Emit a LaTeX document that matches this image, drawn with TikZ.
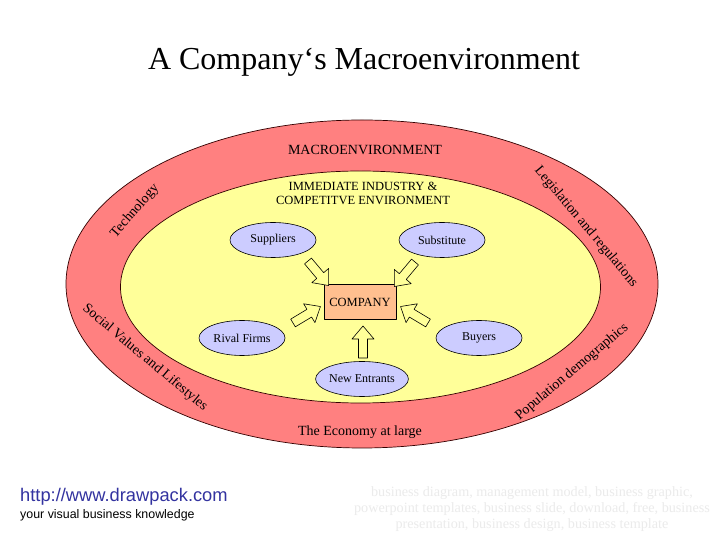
\documentclass[tikz,border=0pt]{standalone}
\usepackage{fontspec}
\setmainfont{Liberation Serif}
\newfontfamily\footfont{Liberation Sans}
\usetikzlibrary{shapes.geometric, positioning}
\definecolor{macrored}{HTML}{FF8080}
\definecolor{industryyellow}{HTML}{FFFF99}
\definecolor{playerblue}{HTML}{CCCCFF}
\definecolor{companyorange}{HTML}{FFBF8F}
\definecolor{linkblue}{HTML}{3333A0}
\tikzset{
  every picture/.style={line join=round},
  ring/.style={draw=black!80!red, line width=0.7pt},
  player/.style={ellipse, draw=black, line width=0.6pt, fill=playerblue,
    minimum width=86pt, minimum height=35pt, inner sep=0pt, font=\fontsize{12}{14}\selectfont},
  firmbox/.style={rectangle, draw=black, line width=0.6pt, fill=companyorange,
    minimum width=72pt, minimum height=35pt, font=\fontsize{12.5}{14}\selectfont},
  ringlabel/.style={font=\fontsize{14}{16}\selectfont, inner sep=0pt},
  % hollow block arrow, tail at the origin, pointing along +x
  blockarrow/.pic={
    \draw[line width=0.6pt, fill=industryyellow]
      (0,-4.5) -- (19,-4.5) -- (19,-11) -- (32,0) -- (19,11) -- (19,4.5) -- (0,4.5) -- cycle;
  },
}
\begin{document}
\begin{tikzpicture}[x=1pt, y=1pt]
  \useasboundingbox[fill=white] (0,0) rectangle (728,546);
  \node[font=\fontsize{32}{36}\selectfont] (title) at (364,484) {A Company‘s Macroenvironment};
  % the two environments
  \fill[macrored] (362,262) ellipse [x radius=296pt, y radius=164pt];
  \draw[ring] (362,262) ellipse [x radius=296pt, y radius=164pt];
  \fill[industryyellow] (360.5,259) ellipse [x radius=240pt, y radius=116pt];
  \draw[ring] (360.5,259) ellipse [x radius=240pt, y radius=116pt];
  \node[ringlabel] (macro) at (365,396) {MACROENVIRONMENT};
  \node[font=\fontsize{12.5}{14}\selectfont, align=center, inner sep=0pt] (industry) at (363,353)
    {IMMEDIATE INDUSTRY \&\\COMPETITVE ENVIRONMENT};
  \node[ringlabel] (economy) at (360,114) {The Economy at large};
  \node[ringlabel, rotate=49] (tech) at (135,335) {Technology};
  \node[ringlabel, rotate=-50] (legis) at (586,319) {Legislation and regulations};
  \node[ringlabel, rotate=-40] (social) at (145,188) {Social Values and Lifestyles};
  \node[ringlabel, rotate=40] (popul) at (572,174) {Population demographics};
  % forces around the company
  \node[firmbox] (company) at (360,244) {COMPANY};
  \node[player] (suppliers) at (273,306) {Suppliers};
  \node[player] (substitute) at (442,306) {Substitute};
  \node[player] (rivals) at (242,208) {Rival Firms};
  \node[player] (buyers) at (479,208) {Buyers};
  \node[player, minimum width=88pt] (entrants) at (362,167) {New Entrants};
  \pic[rotate=-50] at (308,285) {blockarrow};
  \pic[rotate=-130] at (415,284) {blockarrow};
  \pic[rotate=31] at (293,223) {blockarrow};
  \pic[rotate=149] at (428,223) {blockarrow};
  \pic[rotate=90] at (363,188) {blockarrow};
  % footer
  \node[anchor=west, inner sep=0pt, text=linkblue, font=\footfont\fontsize{18.3}{20}\selectfont] (url) at (20,49) {http://www.drawpack.com};
  \node[anchor=west, inner sep=0pt, font=\footfont\fontsize{12.4}{14}\selectfont] (motto) at (20,31) {your visual business knowledge};
  \node[text=black!8, align=center, inner sep=0pt, font=\fontsize{14.2}{16}\selectfont] (keywords) at (532,37)
    {business diagram, management model, business graphic,\\powerpoint templates, business slide, download, free, business\\presentation, business design, business template};
\end{tikzpicture}
\end{document}
